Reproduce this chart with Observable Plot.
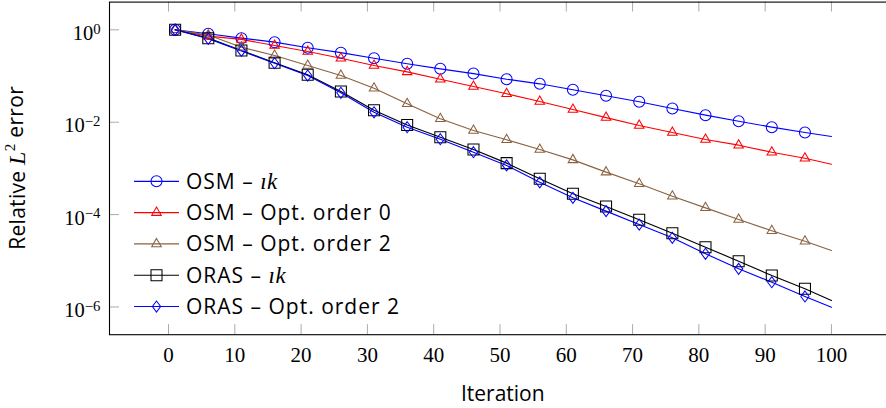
<!DOCTYPE html>
<html><head><meta charset="utf-8">
<script src="https://cdn.jsdelivr.net/npm/d3@7"></script>
<script src="https://cdn.jsdelivr.net/npm/@observablehq/plot@0.6"></script>
<style>
body{margin:0;background:#fff}
#chart svg{display:block}
</style>
</head><body><div id="chart"></div>
<script>
// ---------- data ----------
const iterations = [1,6,11,16,21,26,31,36,41,46,51,56,61,66,71,76,81,86,91,96,100];
const osmIk   = [1.0,0.82,0.66,0.54,0.41,0.32,0.243,0.184,0.143,0.113,0.0853,0.0678,0.0503,0.0373,0.0277,0.0198,0.0142,0.0105,0.0078,0.0060,0.0049];
const osmOpt0 = [1.0,0.73,0.62,0.457,0.339,0.243,0.169,0.123,0.0853,0.0593,0.0412,0.0281,0.0188,0.0126,0.0085,0.0060,0.00422,0.00318,0.00224,0.00166,0.00123];
const osmOpt2 = [1.0,0.77,0.42,0.278,0.169,0.1025,0.0545,0.025,0.0119,0.0066,0.00416,0.00257,0.00153,8.3e-4,4.65e-4,2.5e-4,1.4e-4,7.8e-5,4.47e-5,2.65e-5,1.67e-5];
const orasIk  = [1.0,0.66,0.356,0.193,0.106,0.0462,0.0182,0.0087,0.00473,0.00257,0.0013,5.96e-4,2.82e-4,1.5e-4,7.7e-5,3.96e-5,1.97e-5,9.8e-6,4.8e-6,2.48e-6,1.38e-6];
const orasOpt2= [1.0,0.64,0.35,0.189,0.1025,0.0433,0.0164,0.0078,0.00428,0.00224,0.00116,5.0e-4,2.31e-4,1.19e-4,6.1e-5,3.15e-5,1.42e-5,6.7e-6,3.44e-6,1.69e-6,9.9e-7];
const markerIterations = [1,6,11,16,21,26,31,36,41,46,51,56,61,66,71,76,81,86,91,96];

const seriesNames = ["OSM – ", "OSM – Opt. order 0", "OSM – Opt. order 2", "ORAS – ", "ORAS – Opt. order 2"];
const seriesMath  = ["ık", "", "", "ık", ""];
const seriesValues = [osmIk, osmOpt0, osmOpt2, orasIk, orasOpt2];
const seriesColors = ["#0000ff", "#ff0000", "#8a6240", "#000000", "#0000ff"];

const xTicks = [0,10,20,30,40,50,60,70,80,90,100];
const yTicks = [1, 1e-2, 1e-4, 1e-6];
const xDomain = [-8.9, 109.9];
const yDomain = [Math.pow(10,-6.6), Math.pow(10,0.6)];

// ---------- symbols ----------
const R = 5.5;
const rad = size => Math.sqrt(size / Math.PI);
const symCircle = {draw(c, s){ const r = rad(s); c.moveTo(r,0); c.arc(0,0,r,0,2*Math.PI); c.closePath(); }};
const symTriangle = {draw(c, s){ const r = rad(s); c.moveTo(0,-r); c.lineTo(r*0.866, r*0.5); c.lineTo(-r*0.866, r*0.5); c.closePath(); }};
const symSquare = {draw(c, s){ const r = rad(s); c.rect(-r,-r,2*r,2*r); }};
const symDiamond = {draw(c, s){ const r = rad(s); c.moveTo(0,-r); c.lineTo(0.75*r,0); c.lineTo(0,r); c.lineTo(-0.75*r,0); c.closePath(); }};
const seriesSymbols = [symCircle, symTriangle, symTriangle, symSquare, symDiamond];

// ---------- layout ----------
const W = 886, H = 408;
const mL = 109, mR = -10.6, mT = 1.6, mB = 73.8;
const pw = W - mL - mR, ph = H - mT - mB;
const TICK = 10, tickColor = "#aaaaaa";

const tables = seriesValues.map((vals, k) => iterations.map((it, i) => ({it, v: vals[i], k})));

const marks = [
  Plot.tickX(xTicks, {x: d => d, stroke: tickColor, insetTop: ph - TICK}),
  Plot.tickX(xTicks, {x: d => d, stroke: tickColor, insetBottom: ph - TICK}),
  Plot.tickY(yTicks, {y: d => d, stroke: tickColor, insetRight: pw - TICK}),
  Plot.tickY(yTicks, {y: d => d, stroke: tickColor, insetLeft: pw - TICK}),
  Plot.axisX({ticks: xTicks, tickSize: 0, tickPadding: 12, label: null, fontSize: 21, fontFamily: "Liberation Serif", fill: "#000"}),
  Plot.axisY({ticks: yTicks, tickSize: 0, tickPadding: 9, label: null, fontSize: 20.5, fontFamily: "Liberation Serif", fill: "#000", dy: 3.5,
    tickFormat: d => "10^" + Math.round(Math.log10(d))})
];
tables.forEach((t, k) => {
  marks.push(Plot.line(t, {x: "it", y: "v", stroke: seriesColors[k], strokeWidth: 1.15}));
});
tables.forEach((t, k) => {
  marks.push(Plot.dot(t.filter(d => markerIterations.includes(d.it)), {x: "it", y: "v", r: R, symbol: seriesSymbols[k], stroke: seriesColors[k], fill: "none", strokeWidth: 1.05}));
});
marks.push(Plot.frame({stroke: "#000", strokeWidth: 1.1}));

const chart = Plot.plot({
  width: W, height: H,
  marginLeft: mL, marginRight: mR, marginTop: mT, marginBottom: mB,
  x: {domain: xDomain},
  y: {type: "log", domain: yDomain},
  style: {background: "#fff", overflow: "hidden"},
  marks
});
document.getElementById("chart").appendChild(chart);

const svg = d3.select(chart);

// superscripts on y tick labels
svg.selectAll('g[aria-label="y-axis tick label"] text').each(function(){
  const t = d3.select(this);
  const s = t.text();
  const parts = s.split("^");
  if (parts.length !== 2) return;
  const exp = parts[1].replace("-", "−");
  t.text("");
  t.append("tspan").text(parts[0]);
  t.append("tspan").attr("dy", "-0.42em").attr("font-size", "0.72em").text(exp);
});

// axis titles
const sans = "Open Sans";
svg.append("text")
  .attr("x", mL + pw / 2).attr("y", 400.5)
  .attr("text-anchor", "middle").attr("font-family", sans).attr("font-size", 21).attr("fill", "#000")
  .text("Iteration");

const yl = svg.append("text")
  .attr("transform", `translate(25,${mT + ph / 2}) rotate(-90)`)
  .attr("text-anchor", "middle").attr("font-family", sans).attr("font-size", 21).attr("fill", "#000")
  .attr("letter-spacing", 0.3);
yl.append("tspan").text("Relative ");
yl.append("tspan").attr("font-family", "Liberation Serif").attr("font-style", "italic").attr("font-size", 24).text("L");
yl.append("tspan").attr("font-family", "Liberation Serif").attr("font-size", 15).attr("dy", "-0.65em").text("2");
yl.append("tspan").attr("dy", "0.35em").text(" error");

// legend (inside plot, upper-left of lower half)
const lg = svg.append("g").attr("aria-label", "legend");
const rowY = [181.3, 212.6, 243.9, 275.2, 306.5];
seriesNames.forEach((name, k) => {
  const y = rowY[k];
  lg.append("line").attr("x1", 134).attr("x2", 179).attr("y1", y).attr("y2", y)
    .attr("stroke", seriesColors[k]).attr("stroke-width", 1.15);
  lg.append("path").attr("transform", `translate(156.5,${y})`)
    .attr("d", d3.symbol(seriesSymbols[k], R * R * Math.PI)())
    .attr("fill", "none").attr("stroke", seriesColors[k]).attr("stroke-width", 1.05);
  const tx = lg.append("text").attr("x", 186).attr("y", y + 7.5).attr("text-anchor", "start")
    .attr("font-family", sans).attr("font-size", 21).attr("fill", "#000").attr("letter-spacing", 1);
  tx.append("tspan").text(name);
  if (seriesMath[k]) tx.append("tspan").attr("font-family", "Liberation Serif").attr("font-style", "italic").attr("font-size", 23).attr("letter-spacing", 0.5).text(seriesMath[k]);
});
</script>
</body></html>
